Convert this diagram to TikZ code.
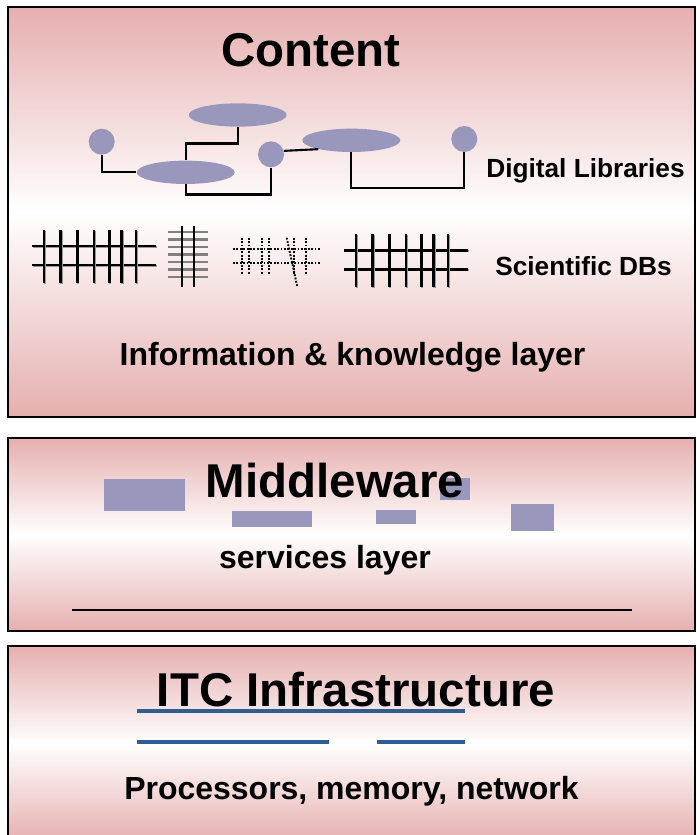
\documentclass[tikz,border=0pt]{standalone}
\usepackage{fontspec}
\setmainfont{Liberation Sans}
\usepackage{tikz}
\usepackage{xcolor}
\usetikzlibrary{shapes.geometric}

\definecolor{rose}{RGB}{230,175,175}
\definecolor{lilac}{RGB}{153,151,187}
\definecolor{navy}{RGB}{46,94,146}

\begin{document}
\begin{tikzpicture}[x=0.03cm, y=-0.03cm,
    layerbox/.style={draw=black, line width=1.7pt, top color=rose, bottom color=rose, middle color=white},
    blob/.style={ellipse, fill=lilac, inner sep=0pt, minimum width=2.94cm, minimum height=0.7cm},
    hub/.style={circle, fill=lilac, inner sep=0pt, minimum size=0.78cm},
    link/.style={line width=1.8pt},
    gridln/.style={line width=2.1pt, preaction={draw=black!40, line width=2.1pt, transform canvas={shift={(0.8pt,-0.8pt)}}}},
    dotln/.style={line width=1.6pt, dash pattern=on 1.6pt off 1.3pt},
    bigtxt/.style={font=\fontsize{40.5}{48}\selectfont\bfseries, anchor=base},
    midtxt/.style={font=\fontsize{27.3}{32}\selectfont\bfseries, anchor=base},
    smalltxt/.style={font=\fontsize{22.4}{27}\selectfont\bfseries, anchor=base}]
      %\draw [dotted] (0,0) grid[step=50] (697,835);
      \clip (0,0) rectangle (697,835);
      % the three layers
      \shade [layerbox] (8,  7) rectangle (695,417);
      \shade [layerbox] (8,438) rectangle (695,631);
      \shade [layerbox] (8,646) rectangle (695,842);

      % content layer
      \node [bigtxt]   (cont) at (311,  66) {Content};
      \node [hub]        (c1) at (101.7,141.7) {};
      \node [blob]       (e1) at (237.7,115.0) {};
      \node [blob]       (e2) at (185.7,172.3) {};
      \node [hub]        (c2) at (271.0,154.3) {};
      \node [blob]       (e3) at (351.3,140.3) {};
      \node [hub]        (c3) at (464.3,139.0) {};
      \node [smalltxt]  (dl) at (585.5, 177) {Digital Libraries};
      \draw [link] (c1) |- (e2);
      \draw [link] (e1.south) -- ++(0,16.6) -| (e2.north);
      \draw [link] (e2.south) -- ++(0,10.3) -| (c2.south);
      \draw [link] (c2.15) -- (e3.195);
      \draw [link] (e3.south) -- ++(0,35.4) -| (c3.south);

      % database grids
      \foreach \gy in {246,265} \draw [gridln] (32,\gy) -- (156,\gy);
      \foreach \gx in {44,60.7,77.3,94,109.3,121.7,136} \draw [gridln] (\gx,230) -- (\gx,282.7);
      \foreach \gy in {232,239.5,...,278} \draw [line width=2pt, black!50] (168.3,\gy) -- (208.3,\gy);
      \foreach \gx in {182.3,194.3} \draw [line width=1.5pt] (\gx,226) -- (\gx,286.7);
      \foreach \gy in {249.3,262.7} \draw [dotln] (233,\gy) -- (320,\gy);
      \foreach \gx in {241.7,249.3,261.7,269.3,294,305.7} \draw [dotln] (\gx,237.7) -- (\gx,274.3);
      \draw [dotln] (286.7,237.7) -- (297.3,286.7);
      \begin{scope}[shift={(312,4.3)}]
        \foreach \gy in {246,265} \draw [gridln] (32,\gy) -- (156,\gy);
        \foreach \gx in {44,60.7,77.3,94,109.3,121.7,136} \draw [gridln] (\gx,230) -- (\gx,282.7);
      \end{scope}
      \node [smalltxt]  (sdb) at (583.5, 275) {Scientific DBs};
      \node [midtxt]    (ikl) at (352.5, 365) {Information \& knowledge layer};

      % middleware layer
      \fill [lilac] (104,479) rectangle (185,510.7);
      \fill [lilac] (232,511) rectangle (312,526.7);
      \fill [lilac] (376,510) rectangle (416,523.7);
      \fill [lilac] (440,478) rectangle (470,500);
      \fill [lilac] (510.7,504) rectangle (554,530.7);
      \node [bigtxt]    (mw) at (335, 497) {Middleware};
      \node [midtxt]    (sl) at (325, 568) {services layer};
      \draw [line width=2.1pt] (72,610) -- (632,610);

      % infrastructure layer
      \node [bigtxt]   (itc) at (356, 706) {ITC Infrastructure};
      \draw [navy, line width=3.5pt] (136.7,710.7) -- (465,710.7);
      \draw [navy, line width=3.5pt] (136.7,742.3) -- (329,742.3);
      \draw [navy, line width=3.5pt] (376.7,742.3) -- (465,742.3);
      \node [midtxt]   (pmn) at (351.5, 799) {Processors, memory, network};
\end{tikzpicture}
\end{document}
